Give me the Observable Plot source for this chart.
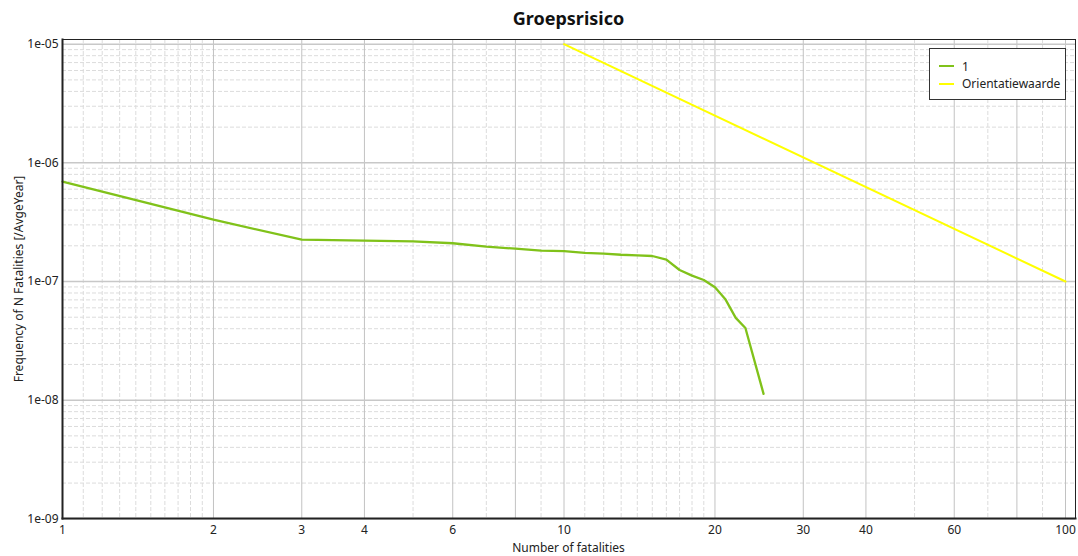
<!DOCTYPE html>
<html>
<head>
<meta charset="utf-8">
<script src="https://cdn.jsdelivr.net/npm/d3@7"></script>
<script src="https://cdn.jsdelivr.net/npm/@observablehq/plot@0.6"></script>
<style>
  html, body { margin: 0; padding: 0; background: #fff; }
  #wrap { position: relative; width: 1078px; height: 556px; font-family: "Noto Sans", "Open Sans", sans-serif; color: #222; }
  #title { position: absolute; left: 62px; width: 1013px; top: 6px; text-align: center; font-weight: bold; font-size: 18px; color: #111; }
  #xlabel { position: absolute; left: 62px; width: 1013px; top: 539px; text-align: center; font-size: 12px; }
  #ylabel { position: absolute; left: 18px; top: 279px; transform: translate(-50%, -50%) rotate(-90deg); white-space: nowrap; font-size: 12px; }
  #legend { position: absolute; left: 929px; top: 48px; width: 137px; height: 52px; border: 1px solid #333; background: #fff; font-size: 12px; box-sizing: border-box; }
  .row { position: absolute; left: 9px; height: 16px; display: flex; align-items: center; }
  .sw { width: 15px; height: 2px; margin-right: 8px; }
</style>
</head>
<body>
<div id="wrap">
  <div id="chart"></div>
  <div id="title">Groepsrisico</div>
  <div id="xlabel">Number of fatalities</div>
  <div id="ylabel">Frequency of N Fatalities [/AvgeYear]</div>
  <div id="legend"></div>
</div>
<script>
// Series "1"
const riskN = [1, 2, 3, 4, 5, 6, 7, 8, 9, 10, 11, 12, 13, 14, 15, 16, 17, 18, 19, 20, 21, 22, 23, 25];
const riskF = [6.95e-7, 3.32e-7, 2.25e-7, 2.21e-7, 2.18e-7, 2.10e-7, 1.97e-7, 1.89e-7, 1.82e-7, 1.80e-7,
               1.74e-7, 1.72e-7, 1.68e-7, 1.66e-7, 1.64e-7, 1.53e-7, 1.25e-7, 1.12e-7, 1.03e-7, 8.94e-8,
               7.04e-8, 4.94e-8, 4.06e-8, 1.13e-8];
// Orientatiewaarde
const orientN = [10, 100];
const orientF = [1e-5, 1e-7];

const seriesNames = ["1", "Orientatiewaarde"];
const seriesColors = ["#80c21a", "#ffff00"];

// Tick labels
const xTicks = [1, 2, 3, 4, 6, 8, 10, 20, 30, 40, 60, 80, 100];
const xMinor = [1.1, 1.2, 1.3, 1.4, 1.5, 1.6, 1.7, 1.8, 1.9, 5, 7, 9, 11, 12, 13, 14, 15, 16, 17, 18, 19, 50, 70, 90];
const yTicks = [1e-9, 1e-8, 1e-7, 1e-6, 1e-5];
const yTickLabels = ["1e-09", "1e-08", "1e-07", "1e-06", "1e-05"];
const yMinor = [];
for (const d of yTicks.slice(0, -1)) for (let k = 2; k <= 9; k++) yMinor.push(d * k);

const risk = riskN.map((n, i) => ({n, f: riskF[i], s: seriesNames[0]}));
const orient = orientN.map((n, i) => ({n, f: orientF[i], s: seriesNames[1]}));

const chart = Plot.plot({
  width: 1078,
  height: 556,
  marginLeft: 62,
  marginRight: 3,
  marginTop: 39,
  marginBottom: 38,
  style: {fontFamily: "'Noto Sans', 'Open Sans', sans-serif", fontSize: "12px", color: "#222", background: "#fff"},
  x: {type: "log", domain: [1, 100], range: [62, 1065]},
  y: {type: "log", domain: [1e-9, 1e-5], range: [518.3, 43.7]},
  marks: [
    Plot.ruleX(xMinor, {stroke: "#dcdcdc", strokeDasharray: "4,2"}),
    Plot.ruleY(yMinor, {stroke: "#dcdcdc", strokeDasharray: "4,2"}),
    Plot.ruleX(xTicks, {stroke: "#c2c2c2"}),
    Plot.ruleY(yTicks, {stroke: "#c8c8c8", strokeWidth: 1.5}),
    Plot.line(orient, {x: "n", y: "f", stroke: seriesColors[1], strokeWidth: 2}),
    Plot.line(risk, {x: "n", y: "f", stroke: seriesColors[0], strokeWidth: 2.3}),
    Plot.frame({stroke: "#222", strokeWidth: 1}),
    Plot.frame({anchor: "left", stroke: "#222", strokeWidth: 2}),
    Plot.frame({anchor: "bottom", stroke: "#222", strokeWidth: 2}),
    Plot.axisX(xTicks, {tickSize: 0, tickPadding: 7, tickFormat: d => String(d), label: null, fontSize: 12}),
    Plot.axisY(yTicks, {tickSize: 0, tickPadding: 4, tickFormat: (d) => yTickLabels[yTicks.indexOf(d)], label: null, fontSize: 12})
  ]
});
document.getElementById("chart").appendChild(chart);

const legend = document.getElementById("legend");
seriesNames.forEach((name, i) => {
  const row = document.createElement("div");
  row.className = "row";
  row.style.top = (9 + i * 17.5) + "px";
  const sw = document.createElement("div");
  sw.className = "sw";
  sw.style.background = seriesColors[i];
  const t = document.createElement("span");
  t.textContent = name;
  row.appendChild(sw);
  row.appendChild(t);
  legend.appendChild(row);
});
</script>
</body>
</html>
